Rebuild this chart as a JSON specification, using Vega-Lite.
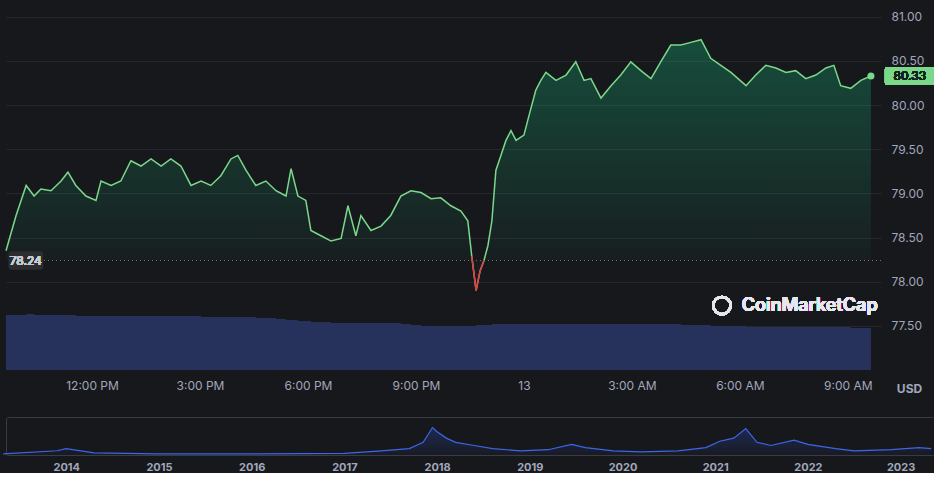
{
  "$schema": "https://vega.github.io/schema/vega-lite/v6.json",
  "background": "#17181c",
  "padding": {"left": 0, "top": 0, "right": 0, "bottom": 0},
  "spacing": 22,
  "config": {
    "view": {"stroke": null},
    "font": "Inter",
    "axis": {"labelColor": "#a1a7bb", "labelFont": "Inter", "labelFontSize": 12, "domain": false, "ticks": false, "titleColor": "#a1a7bb"}
  },
  "datasets": {
    "price": [
      {"h": 9.61, "p": 78.35, "v": 55}, {"h": 9.89, "p": 78.75, "v": 55}, {"h": 10.17, "p": 79.09, "v": 56},
      {"h": 10.39, "p": 78.97, "v": 55}, {"h": 10.58, "p": 79.05, "v": 55}, {"h": 10.86, "p": 79.03, "v": 55},
      {"h": 11.14, "p": 79.14, "v": 55}, {"h": 11.33, "p": 79.24, "v": 55}, {"h": 11.55, "p": 79.09, "v": 54},
      {"h": 11.83, "p": 78.97, "v": 54}, {"h": 12.11, "p": 78.92, "v": 54}, {"h": 12.25, "p": 79.14, "v": 54},
      {"h": 12.53, "p": 79.09, "v": 54}, {"h": 12.8, "p": 79.14, "v": 54}, {"h": 13.08, "p": 79.37, "v": 54},
      {"h": 13.36, "p": 79.31, "v": 54}, {"h": 13.64, "p": 79.39, "v": 54}, {"h": 13.92, "p": 79.31, "v": 54},
      {"h": 14.19, "p": 79.39, "v": 54}, {"h": 14.47, "p": 79.31, "v": 54}, {"h": 14.75, "p": 79.09, "v": 54},
      {"h": 15.03, "p": 79.14, "v": 53}, {"h": 15.3, "p": 79.09, "v": 53}, {"h": 15.58, "p": 79.2, "v": 53},
      {"h": 15.86, "p": 79.39, "v": 53}, {"h": 16.05, "p": 79.43, "v": 53}, {"h": 16.28, "p": 79.26, "v": 53},
      {"h": 16.55, "p": 79.09, "v": 52}, {"h": 16.83, "p": 79.14, "v": 52}, {"h": 17.11, "p": 79.03, "v": 51},
      {"h": 17.39, "p": 78.97, "v": 50}, {"h": 17.53, "p": 79.28, "v": 50}, {"h": 17.72, "p": 78.97, "v": 49},
      {"h": 17.94, "p": 78.92, "v": 49}, {"h": 18.08, "p": 78.58, "v": 48}, {"h": 18.36, "p": 78.52, "v": 48},
      {"h": 18.64, "p": 78.46, "v": 47}, {"h": 18.92, "p": 78.49, "v": 47}, {"h": 19.11, "p": 78.86, "v": 47},
      {"h": 19.33, "p": 78.52, "v": 47}, {"h": 19.47, "p": 78.75, "v": 47}, {"h": 19.75, "p": 78.58, "v": 47},
      {"h": 20.03, "p": 78.63, "v": 47}, {"h": 20.3, "p": 78.75, "v": 47}, {"h": 20.58, "p": 78.97, "v": 46},
      {"h": 20.86, "p": 79.03, "v": 45}, {"h": 21.14, "p": 79.01, "v": 44}, {"h": 21.42, "p": 78.94, "v": 44},
      {"h": 21.69, "p": 78.95, "v": 44}, {"h": 21.97, "p": 78.86, "v": 44}, {"h": 22.25, "p": 78.8, "v": 44},
      {"h": 22.44, "p": 78.69, "v": 44}, {"h": 22.55, "p": 78.29, "v": 44}, {"h": 22.67, "p": 77.9, "v": 45},
      {"h": 22.78, "p": 78.12, "v": 45}, {"h": 22.89, "p": 78.24, "v": 45}, {"h": 23.0, "p": 78.41, "v": 45},
      {"h": 23.11, "p": 78.69, "v": 46}, {"h": 23.22, "p": 79.26, "v": 46}, {"h": 23.36, "p": 79.43, "v": 46},
      {"h": 23.5, "p": 79.6, "v": 46}, {"h": 23.64, "p": 79.71, "v": 46}, {"h": 23.78, "p": 79.6, "v": 46},
      {"h": 24.0, "p": 79.66, "v": 46}, {"h": 24.14, "p": 79.88, "v": 46}, {"h": 24.33, "p": 80.17, "v": 46},
      {"h": 24.47, "p": 80.28, "v": 46}, {"h": 24.61, "p": 80.37, "v": 46}, {"h": 24.89, "p": 80.28, "v": 46},
      {"h": 25.17, "p": 80.34, "v": 46}, {"h": 25.44, "p": 80.49, "v": 46}, {"h": 25.67, "p": 80.28, "v": 46},
      {"h": 25.86, "p": 80.3, "v": 46}, {"h": 26.14, "p": 80.08, "v": 46}, {"h": 26.42, "p": 80.22, "v": 46},
      {"h": 26.69, "p": 80.34, "v": 46}, {"h": 26.97, "p": 80.49, "v": 46}, {"h": 27.25, "p": 80.39, "v": 46},
      {"h": 27.53, "p": 80.3, "v": 46}, {"h": 27.8, "p": 80.49, "v": 46}, {"h": 28.08, "p": 80.68, "v": 46},
      {"h": 28.36, "p": 80.68, "v": 45}, {"h": 28.64, "p": 80.71, "v": 45}, {"h": 28.92, "p": 80.74, "v": 45},
      {"h": 29.19, "p": 80.53, "v": 44}, {"h": 29.47, "p": 80.45, "v": 44}, {"h": 29.75, "p": 80.37, "v": 44},
      {"h": 30.17, "p": 80.22, "v": 43}, {"h": 30.44, "p": 80.34, "v": 43}, {"h": 30.72, "p": 80.45, "v": 43},
      {"h": 31.0, "p": 80.42, "v": 43}, {"h": 31.28, "p": 80.37, "v": 43}, {"h": 31.55, "p": 80.39, "v": 43},
      {"h": 31.83, "p": 80.3, "v": 43}, {"h": 32.11, "p": 80.34, "v": 43}, {"h": 32.39, "p": 80.42, "v": 43},
      {"h": 32.61, "p": 80.45, "v": 43}, {"h": 32.8, "p": 80.22, "v": 43}, {"h": 33.08, "p": 80.19, "v": 42},
      {"h": 33.36, "p": 80.28, "v": 42}, {"h": 33.64, "p": 80.33, "v": 42}
    ],
    "history": [
      {"yr": 2013.32, "val": 1}, {"yr": 2013.9, "val": 4}, {"yr": 2014.0, "val": 6}, {"yr": 2014.3, "val": 2},
      {"yr": 2015.0, "val": 1}, {"yr": 2016.0, "val": 1}, {"yr": 2017.0, "val": 1.5}, {"yr": 2017.4, "val": 4},
      {"yr": 2017.7, "val": 6}, {"yr": 2017.85, "val": 12}, {"yr": 2017.95, "val": 26}, {"yr": 2018.0, "val": 22},
      {"yr": 2018.1, "val": 16}, {"yr": 2018.2, "val": 12}, {"yr": 2018.4, "val": 9}, {"yr": 2018.6, "val": 6},
      {"yr": 2018.9, "val": 4}, {"yr": 2019.2, "val": 5}, {"yr": 2019.45, "val": 10}, {"yr": 2019.6, "val": 7},
      {"yr": 2019.9, "val": 4}, {"yr": 2020.2, "val": 3}, {"yr": 2020.6, "val": 4}, {"yr": 2020.9, "val": 7},
      {"yr": 2021.05, "val": 13}, {"yr": 2021.2, "val": 16}, {"yr": 2021.33, "val": 25}, {"yr": 2021.45, "val": 12},
      {"yr": 2021.6, "val": 9}, {"yr": 2021.85, "val": 14}, {"yr": 2022.0, "val": 10}, {"yr": 2022.3, "val": 6},
      {"yr": 2022.5, "val": 4}, {"yr": 2022.9, "val": 5}, {"yr": 2023.2, "val": 7}, {"yr": 2023.33, "val": 6}
    ]
  },
  "vconcat": [
    {
      "width": 875,
      "height": 370,
      "data": {"name": "price"},
      "resolve": {"scale": {"y": "independent"}},
      "layer": [
        {
          "mark": {"type": "area", "interpolate": "step-after", "color": "#27325c"},
          "encoding": {
            "x": {"field": "h", "type": "quantitative", "scale": {"domain": [9.61, 33.92], "nice": false},
              "axis": {"values": [12, 15, 18, 21, 24, 27, 30, 33], "grid": false, "labelPadding": 10,
                "labelExpr": "datum.value == 24 ? '13' : datum.value < 24 ? ((datum.value > 12 ? datum.value - 12 : datum.value) + ':00 PM') : ((datum.value - 24) + ':00 AM')"}, "title": null},
            "y": {"field": "v", "type": "quantitative", "scale": {"domain": [0, 370]}, "axis": null}
          }
        },
        {
          "layer": [
            {
              "mark": {"type": "area", "color": {"gradient": "linear", "x1": 0, "y1": 0, "x2": 0, "y2": 1,
                "stops": [{"offset": 0, "color": "rgba(22,199,132,0.30)"}, {"offset": 1, "color": "rgba(22,199,132,0)"}]}},
              "encoding": {
                "x": {"field": "h", "type": "quantitative"},
                "y": {"field": "p", "type": "quantitative", "scale": {"domain": [77.0, 81.19], "nice": false, "zero": false},
                  "axis": {"orient": "right", "values": [77.5, 78, 78.5, 79, 79.5, 80, 80.5, 81], "format": ".2f", "grid": true, "gridColor": "#26272c", "labelPadding": 10,
                    "title": "USD", "titleAngle": 0, "titleFontSize": 12, "titleFontWeight": "bold", "titleY": 395, "titleX": 28}},
                "y2": {"datum": 78.24}
              }
            },
            {
              "mark": {"type": "line", "color": "#7bd88b", "strokeWidth": 1.5},
              "encoding": {"x": {"field": "h", "type": "quantitative"}, "y": {"field": "p", "type": "quantitative"}}
            },
            {
              "transform": [{"filter": "datum.h >= 22.5 && datum.h <= 22.95"}],
              "mark": {"type": "line", "color": "#ea3943", "strokeWidth": 1.5},
              "encoding": {"x": {"field": "h", "type": "quantitative"}, "y": {"field": "p", "type": "quantitative"}}
            },
            {
              "transform": [{"filter": "datum.h == 33.64"}],
              "mark": {"type": "point", "filled": true, "color": "#7bd88b", "size": 50, "opacity": 1},
              "encoding": {"x": {"field": "h", "type": "quantitative"}, "y": {"field": "p", "type": "quantitative"}}
            },
            {
              "mark": {"type": "rule", "color": "#6f7380", "strokeDash": [1, 3]},
              "encoding": {"y": {"datum": 78.24}}
            },
            {
              "mark": {"type": "rect", "fill": "#2b2d33", "cornerRadius": 2},
              "encoding": {"x": {"datum": 9.69}, "x2": {"datum": 10.64}, "y": {"datum": 78.14}, "y2": {"datum": 78.34}}
            },
            {
              "mark": {"type": "text", "fill": "#c9ccd6", "stroke": null, "fontSize": 12, "align": "center"},
              "encoding": {"x": {"datum": 10.16}, "y": {"datum": 78.24}, "text": {"value": "78.24"}}
            },
            {
              "mark": {"type": "rect", "fill": "#7bd88b", "cornerRadius": 2},
              "encoding": {"x": {"datum": 34.03}, "x2": {"datum": 35.42}, "y": {"datum": 80.23}, "y2": {"datum": 80.43}}
            },
            {
              "mark": {"type": "text", "fill": "#10241a", "stroke": null, "fontSize": 12, "align": "center"},
              "encoding": {"x": {"datum": 34.72}, "y": {"datum": 80.33}, "text": {"value": "80.33"}}
            },
            {
              "mark": {"type": "text", "fill": "#e6e8ee", "stroke": null, "fontSize": 18, "fontWeight": 600, "align": "left"},
              "encoding": {"x": {"datum": 30.05}, "y": {"datum": 77.73}, "text": {"value": "CoinMarketCap"}}
            },
            {
              "mark": {"type": "point", "color": "#e6e8ee", "size": 300, "strokeWidth": 2.5, "filled": false},
              "encoding": {"x": {"datum": 29.5}, "y": {"datum": 77.73}}
            }
          ]
        }
      ]
    },
    {
      "width": 928,
      "height": 38,
      "data": {"name": "history"},
      "view": {"stroke": "#3a3c44", "cornerRadius": 2},
      "layer": [
        {
          "mark": {"type": "area", "line": {"color": "#3d66e8", "strokeWidth": 1.2}, "color": {"gradient": "linear", "x1": 0, "y1": 0, "x2": 0, "y2": 1,
            "stops": [{"offset": 0, "color": "rgba(56,97,251,0.35)"}, {"offset": 1, "color": "rgba(56,97,251,0.05)"}]}},
          "encoding": {
            "x": {"field": "yr", "type": "quantitative", "scale": {"domain": [2013.35, 2023.36], "nice": false},
              "axis": {"values": [2014, 2015, 2016, 2017, 2018, 2019, 2020, 2021, 2022, 2023], "format": "d", "grid": false, "labelFontWeight": "bold", "labelFontSize": 11, "labelPadding": 6}, "title": null},
            "y": {"field": "val", "type": "quantitative", "scale": {"domain": [0, 36]}, "axis": null}
          }
        }
      ]
    }
  ]
}
